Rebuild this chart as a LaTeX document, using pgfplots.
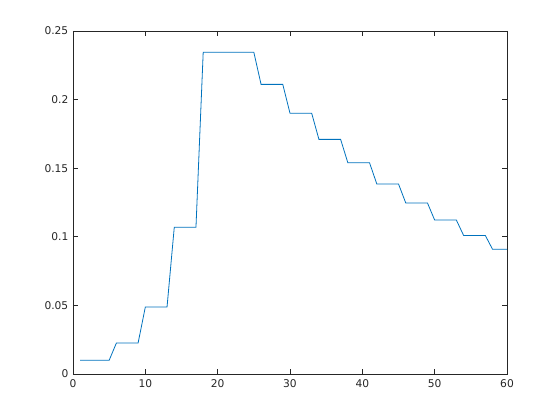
\documentclass[border=0pt]{standalone}
\usepackage{fontspec}
\setmainfont{DejaVu Sans}
\usepackage{pgfplots}
\pgfplotsset{compat=1.18}
\definecolor{mblue}{HTML}{0072BD}
\definecolor{axgray}{HTML}{262626}
\begin{document}
\begin{tikzpicture}
\begin{axis}[
    at={(0,0)}, anchor=south west,
    scale only axis,
    width=325.5pt, height=257.25pt,
    xmin=0, xmax=60, ymin=0, ymax=0.25,
    xtick={0,10,...,60},
    ytick={0,0.05,0.1,0.15,0.2,0.25},
    scaled y ticks=false,
    yticklabel style={/pgf/number format/fixed, /pgf/number format/precision=2},
    /pgf/number format/assume math mode=true,
    tick align=inside,
    major tick length=3.75pt,
    axis line style={axgray, line width=0.5pt},
    every tick/.style={axgray, line width=0.5pt},
    tick label style={font=\fontsize{8}{9}\selectfont, text=axgray},
    xticklabel style={yshift=-1pt},
]
\addplot[mblue, line width=0.6pt] coordinates {
(1,0.0100) (2,0.0100) (3,0.0100) (4,0.0100) (5,0.0100)
(6,0.0226) (7,0.0226) (8,0.0226) (9,0.0226)
(10,0.0488) (11,0.0488) (12,0.0488) (13,0.0488)
(14,0.1069) (15,0.1069) (16,0.1069) (17,0.1069)
(18,0.2345) (19,0.2345) (20,0.2345) (21,0.2345) (22,0.2345) (23,0.2345) (24,0.2345) (25,0.2345)
(26,0.2111) (27,0.2111) (28,0.2111) (29,0.2111)
(30,0.1900) (31,0.1900) (32,0.1900) (33,0.1900)
(34,0.1710) (35,0.1710) (36,0.1710) (37,0.1710)
(38,0.1539) (39,0.1539) (40,0.1539) (41,0.1539)
(42,0.1385) (43,0.1385) (44,0.1385) (45,0.1385)
(46,0.1247) (47,0.1247) (48,0.1247) (49,0.1247)
(50,0.1122) (51,0.1122) (52,0.1122) (53,0.1122)
(54,0.1010) (55,0.1010) (56,0.1010) (57,0.1010)
(58,0.0909) (59,0.0909) (60,0.0909)
};
\end{axis}
\path[use as bounding box] (-54.75pt,-34.5pt) rectangle (365.25pt,280.5pt);
\end{tikzpicture}
\end{document}
